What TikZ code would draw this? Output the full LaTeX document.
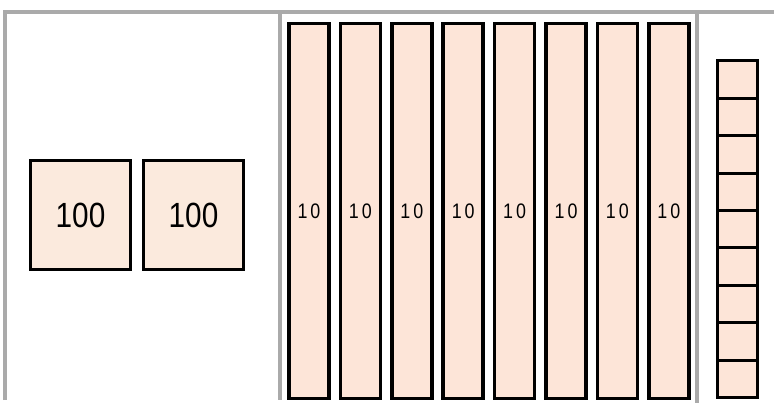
\documentclass[tikz,border=0pt]{standalone}
\usepackage{fontspec}
\setmainfont{Liberation Sans}
\newfontfamily\narrowsans[FakeStretch=0.85]{Liberation Sans}
\usepackage{xcolor}
\usepackage{tikz}
\usetikzlibrary{
  shapes.geometric,
  arrows.meta,
  positioning,
  calc
}
\definecolor{flatpeach}{RGB}{251,234,221}
\definecolor{rodpeach}{RGB}{253,229,216}
\definecolor{framegray}{RGB}{170,170,170}

\begin{document}
\begin{tikzpicture}[x=1pt, y=-1pt,
  hundred/.style={draw, line width=3pt, fill=flatpeach, inner sep=0pt,
    minimum width=100pt, minimum height=109pt,
    font=\narrowsans\fontsize{35}{35}\selectfont},
  tenrod/.style={draw, line width=3.6pt, fill=rodpeach, inner sep=0pt,
    minimum width=40pt, minimum height=375pt,
    font=\narrowsans\fontsize{21}{21}\selectfont},
  onecell/.style={draw, line width=3pt, fill=rodpeach, inner sep=0pt,
    minimum width=40pt, minimum height=37.4pt}]
  \useasboundingbox (0,0) rectangle (774,406);
  % frame
  \draw[framegray, line width=3.5pt] (5,400) -- (5,12) -- (774,12);
  \draw[framegray, line width=3.5pt] (280,12) -- (280,400);
  \draw[framegray, line width=3.5pt] (697,12) -- (697,403);
  % hundreds
  \node[hundred] (h0) at (80.5,215) {100};
  \node[hundred] (h1) at (193.5,215) {100};
  % tens
  \node[tenrod] (t0) at (309,211) {1\kern3pt0};
  \node[tenrod] (t1) at (360.4,211) {1\kern3pt0};
  \node[tenrod] (t2) at (411.8,211) {1\kern3pt0};
  \node[tenrod] (t3) at (463.2,211) {1\kern3pt0};
  \node[tenrod] (t4) at (514.6,211) {1\kern3pt0};
  \node[tenrod] (t5) at (566,211) {1\kern3pt0};
  \node[tenrod] (t6) at (617.4,211) {1\kern3pt0};
  \node[tenrod] (t7) at (668.8,211) {1\kern3pt0};
  % ones
  \node[onecell] (o0) at (737.5,79.7) {};
  \node[onecell] (o1) at (737.5,117.1) {};
  \node[onecell] (o2) at (737.5,154.5) {};
  \node[onecell] (o3) at (737.5,191.9) {};
  \node[onecell] (o4) at (737.5,229.3) {};
  \node[onecell] (o5) at (737.5,266.7) {};
  \node[onecell] (o6) at (737.5,304.1) {};
  \node[onecell] (o7) at (737.5,341.5) {};
  \node[onecell] (o8) at (737.5,378.9) {};
\end{tikzpicture}
\end{document}
